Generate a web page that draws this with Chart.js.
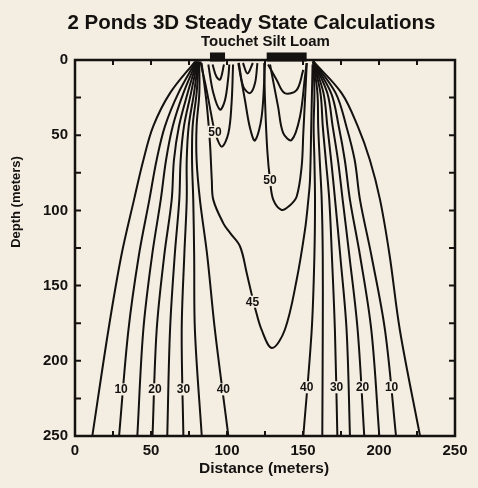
<!DOCTYPE html>
<html>
<head>
<meta charset="utf-8">
<script src="https://cdn.jsdelivr.net/npm/chart.js@4.4.1/dist/chart.umd.min.js"></script>
<style>
html,body{margin:0;padding:0;background:#f4ede1;}
#wrap{width:478px;height:488px;}
</style>
</head>
<body>
<div id="wrap"><canvas id="c" width="478" height="488"></canvas></div>
<script>
// ---- Data ----
const titleText = '2 Ponds 3D Steady State Calculations';
const subtitleText = 'Touchet Silt Loam';
const xAxisTitle = 'Distance (meters)';
const yAxisTitle = 'Depth (meters)';
const xTicks = [0, 50, 100, 150, 200, 250];
const yTicks = [0, 50, 100, 150, 200, 250];
const minorTicks = [0, 25, 50, 75, 100, 125, 150, 175, 200, 225, 250];

// depths at which the fan contours were read
const fanDepth = [1, 22, 44, 66.5, 93, 130, 180, 250];
// left-side fan contours (distance at each fanDepth)
const c5L  = [79.0, 62.5, 51.5, 45.0, 38.8, 30.5, 21.9, 11.4];
const c10L = [79.5, 68.0, 59.2, 53.7, 48.9, 42.0, 35.1, 29.0];
const c15L = [80.0, 71.3, 64.3, 59.9, 56.4, 50.7, 44.9, 41.0];
const c20L = [80.3, 74.1, 68.4, 65.1, 63.6, 58.7, 53.7, 51.0];
const c25L = [80.6, 76.3, 71.7, 69.5, 68.6, 65.6, 62.5, 60.7];
const c30L = [81.0, 78.3, 74.8, 73.5, 73.5, 71.9, 70.2, 71.3];
const c35L = [81.3, 80.0, 77.4, 77.0, 77.8, 78.4, 78.9, 83.4];
const c40L = [81.7, 81.8, 80.0, 80.0, 82.2, 87.0, 92.1, 100.9];
// right-side fan contours
const c40R = [156.8, 157.5, 157.0, 157.5, 157.9, 157.5, 155.7, 150.2];
const c35R = [156.8, 159.5, 160.0, 161.0, 162.3, 163.0, 163.0, 162.7];
const c30R = [156.8, 161.5, 163.0, 165.0, 167.3, 169.0, 171.0, 172.6];
const c25R = [156.8, 163.5, 166.0, 168.5, 171.1, 174.5, 178.7, 180.9];
const c20R = [156.8, 166.0, 169.5, 173.0, 176.1, 180.5, 186.0, 190.3];
const c15R = [156.8, 168.5, 173.5, 177.5, 180.9, 187.5, 195.0, 200.2];
const c10R = [156.8, 171.5, 178.5, 184.0, 187.5, 195.0, 204.0, 211.2];
const c5R  = [156.8, 175.4, 186.0, 194.0, 200.7, 207.0, 213.8, 227.0];

// 45 contour
const c45X = [83.3, 86.6, 88.8, 90.0, 91.0, 97.6, 102.0, 108.6, 113.0, 116.5, 118.5, 122.8, 129.6, 138.0, 145.8, 151.3, 153.5, 154.6, 155.5, 156.3];
const c45Y = [2, 28.8, 55.4, 79.8, 93, 108.6, 115, 124, 141.8, 157, 165, 179.5, 191.5, 179.5, 146.3, 113, 93, 79.8, 40, 3];

// 50 contours (closed U shapes under the ponds)
const u1X = [82.5, 86.6, 89.9, 92.0, 96.5, 100.9, 103.0, 104.0];
const u1Y = [1, 20, 37.7, 47.7, 57.6, 48.7, 28.8, 3];
const u2X = [87.7, 91.0, 95.4, 98.7, 100.9, 101.5];
const u2Y = [3, 22, 33, 26.6, 11, 3];
const u3X = [90.5, 93.0, 95.5, 98.0];
const u3Y = [3, 11, 13, 3];
const u4X = [107.4, 111.8, 115.1, 118.4, 122.8, 125.0];
const u4Y = [2, 26.6, 45, 53.5, 37.7, 2];
const u5X = [107.8, 110.7, 115.1, 118.4, 120.0];
const u5Y = [2, 17.7, 22, 15.5, 2];
const u6X = [110.5, 113.5, 117.0];
const u6Y = [2, 9, 2];
const u7X = [124.5, 125.0, 126.5, 128.3, 130.5, 136.0, 141.0, 145.8, 149.1, 150.2, 151.3, 152.5];
const u7Y = [2, 26.6, 60, 79.8, 93, 99.7, 97, 90.9, 70.9, 48.7, 26.6, 2];
const u8X = [128.3, 133.6, 137.0, 142.5, 148.0, 151.3, 152.4];
const u8Y = [3, 31, 48.6, 53.2, 37.7, 11, 2];
const u9X = [127.0, 132.7, 138.0, 145.8, 150.2];
const u9Y = [3, 13.3, 22, 20, 6.6];

// contour labels
const labelText = ['50', '50', '45', '10', '20', '30', '40', '40', '30', '20', '10'];
const labelX = [92.1, 128.3, 116.7, 30.3, 52.6, 71.3, 97.6, 152.4, 172.1, 189.2, 208.3];
const labelY = [47.7, 79.8, 160.7, 219, 219, 219, 219, 217.6, 217.6, 217.6, 217.6];

// ponds at the surface
const pondStart = [88.8, 126.1];
const pondEnd = [98.7, 152.4];
const pondTop = -5;
const pondBottom = 1;

// ---- build datasets ----
const INK = '#141210';
const BG = '#f4ede1';
function pts(xs, ys) { return xs.map((x, i) => ({x: x, y: ys[i]})); }
function line(xs, ys) {
  return {data: pts(xs, ys), showLine: true, borderColor: INK, borderWidth: 2,
          pointRadius: 0, tension: 0.35, fill: false};
}
const fans = [c5L, c10L, c15L, c20L, c25L, c30L, c35L, c40L,
              c40R, c35R, c30R, c25R, c20R, c15R, c10R, c5R];
const datasets = fans.map(f => line(f, fanDepth));
datasets.push(line(c45X, c45Y));
[[u1X,u1Y],[u2X,u2Y],[u3X,u3Y],[u4X,u4Y],[u5X,u5Y],[u6X,u6Y],[u7X,u7Y],[u8X,u8Y],[u9X,u9Y]]
  .forEach(p => datasets.push(line(p[0], p[1])));

const FONT = "'Liberation Sans', Arial, Helvetica, sans-serif";

const decor = {
  id: 'decor',
  beforeDraw(chart) {
    const ctx = chart.ctx;
    ctx.save();
    ctx.fillStyle = BG;
    ctx.fillRect(0, 0, chart.width, chart.height);
    ctx.restore();
  },
  afterDatasetsDraw(chart) {
    const ctx = chart.ctx, xs = chart.scales.x, ys = chart.scales.y, a = chart.chartArea;
    ctx.save();
    // ponds
    ctx.fillStyle = INK;
    for (let i = 0; i < pondStart.length; i++) {
      const x0 = xs.getPixelForValue(pondStart[i]), x1 = xs.getPixelForValue(pondEnd[i]);
      const y0 = ys.getPixelForValue(pondTop), y1 = ys.getPixelForValue(pondBottom);
      ctx.fillRect(x0, y0, x1 - x0, y1 - y0);
    }
    // contour labels
    ctx.font = 'bold 12px ' + FONT;
    ctx.textAlign = 'center';
    ctx.textBaseline = 'middle';
    for (let i = 0; i < labelText.length; i++) {
      const px = xs.getPixelForValue(labelX[i]), py = ys.getPixelForValue(labelY[i]);
      const w = ctx.measureText(labelText[i]).width;
      ctx.fillStyle = BG;
      ctx.fillRect(px - w / 2 - 1, py - 6, w + 2, 12);
      ctx.fillStyle = INK;
      ctx.fillText(labelText[i], px, py + 0.5);
    }
    // frame
    ctx.strokeStyle = INK;
    ctx.lineWidth = 2.5;
    ctx.strokeRect(a.left, a.top, a.right - a.left, a.bottom - a.top);
    // inward ticks
    ctx.lineWidth = 2;
    ctx.beginPath();
    minorTicks.forEach(v => {
      const px = xs.getPixelForValue(v), py = ys.getPixelForValue(v);
      ctx.moveTo(px, a.bottom); ctx.lineTo(px, a.bottom - 5);
      ctx.moveTo(px, a.top); ctx.lineTo(px, a.top + 5);
      ctx.moveTo(a.left, py); ctx.lineTo(a.left + 6, py);
      ctx.moveTo(a.right, py); ctx.lineTo(a.right - 6, py);
    });
    ctx.stroke();
    // titles
    ctx.fillStyle = INK;
    ctx.textAlign = 'center';
    ctx.textBaseline = 'alphabetic';
    ctx.font = 'bold 20.5px ' + FONT;
    ctx.fillText(titleText, 251.5, 29);
    ctx.font = 'bold 15px ' + FONT;
    ctx.fillText(subtitleText, 265.5, 46);
    ctx.font = 'bold 15.5px ' + FONT;
    ctx.fillText(xAxisTitle, 264, 473);
    ctx.save();
    ctx.translate(20, 202);
    ctx.rotate(-Math.PI / 2);
    ctx.font = 'bold 13px ' + FONT;
    ctx.fillText(yAxisTitle, 0, 0);
    ctx.restore();
    ctx.restore();
  }
};

new Chart(document.getElementById('c'), {
  type: 'scatter',
  data: {datasets: datasets},
  options: {
    responsive: false,
    animation: false,
    layout: {padding: {top: 60, right: 23, left: 0, bottom: 0}},
    plugins: {legend: {display: false}, tooltip: {enabled: false}, title: {display: false}},
    scales: {
      x: {
        type: 'linear', min: 0, max: 250,
        afterBuildTicks: s => { s.ticks = xTicks.map(v => ({value: v})); },
        afterFit: s => { s.height = 52; },
        grid: {display: false, drawTicks: false},
        border: {display: false},
        ticks: {color: INK, padding: 6, font: {family: FONT, size: 15, weight: 'bold'}, maxRotation: 0}
      },
      y: {
        type: 'linear', min: 0, max: 250, reverse: true,
        afterBuildTicks: s => { s.ticks = yTicks.map(v => ({value: v})); },
        afterFit: s => { s.width = 75; },
        grid: {display: false, drawTicks: false},
        border: {display: false},
        ticks: {color: INK, padding: 7, font: {family: FONT, size: 15, weight: 'bold'}}
      }
    }
  },
  plugins: [decor]
});
</script>
</body>
</html>
